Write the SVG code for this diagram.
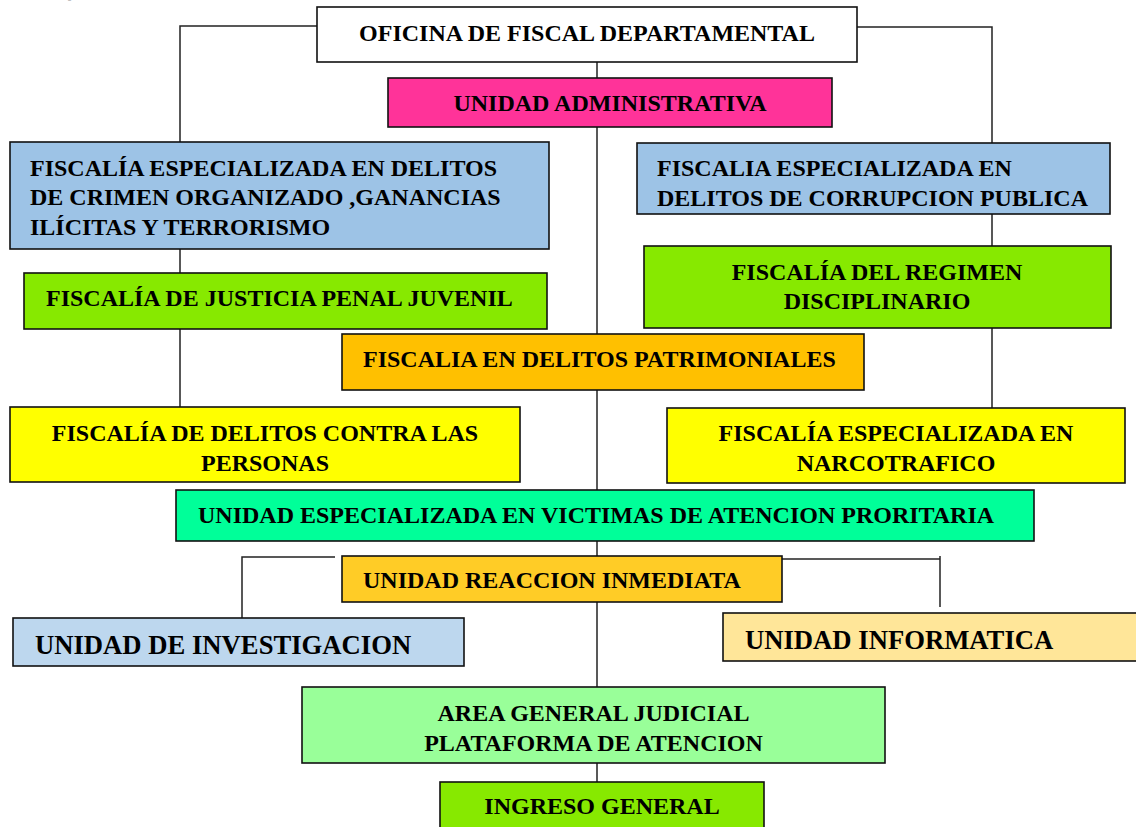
<svg xmlns="http://www.w3.org/2000/svg" width="1136" height="827" viewBox="0 0 1136 827">
<style>
.b{stroke:#111;stroke-width:1.6}
.t{font-family:"Liberation Serif","Times New Roman",serif;font-weight:bold;font-size:24px;fill:#000}
.c{text-anchor:middle}
.L{font-size:26.67px}
.ln{fill:none;stroke:#222;stroke-width:1.5}
</style>
<rect width="1136" height="827" fill="#fff"/>
<text class="t" x="55" y="-3">Q</text>
<g id="connectors">
<polyline class="ln" points="317,26 180,26 180,407"/>
<polyline class="ln" points="857,27 992,27 992,408"/>
<line class="ln" x1="597" y1="62" x2="597" y2="782"/>
<polyline class="ln" points="335,557 242,557 242,618"/>
<line class="ln" x1="780" y1="559" x2="940" y2="559"/>
<line class="ln" x1="940" y1="556" x2="940" y2="607"/>
</g>
<g id="n-oficina"><rect class="b" x="317" y="7" width="540" height="55" fill="#fff"/><text class="t c" x="587" y="41">OFICINA DE FISCAL DEPARTAMENTAL</text></g>
<g id="n-admin"><rect class="b" x="388" y="78" width="444" height="49" fill="#FF3399"/><text class="t c" x="610" y="111">UNIDAD ADMINISTRATIVA</text></g>
<g id="n-crimen"><rect class="b" x="10" y="142" width="539" height="107" fill="#9DC3E6"/><text class="t" x="30" y="176">FISCALÍA ESPECIALIZADA EN DELITOS</text><text class="t" x="30" y="205">DE CRIMEN ORGANIZADO ,GANANCIAS</text><text class="t" x="30" y="235">ILÍCITAS Y TERRORISMO</text></g>
<g id="n-corrupcion"><rect class="b" x="637" y="143" width="473" height="71" fill="#9DC3E6"/><text class="t" x="657" y="176">FISCALIA ESPECIALIZADA EN</text><text class="t" x="657" y="206">DELITOS DE CORRUPCION PUBLICA</text></g>
<g id="n-juvenil"><rect class="b" x="24" y="273" width="523" height="56" fill="#87E900"/><text class="t" x="46" y="306">FISCALÍA DE JUSTICIA PENAL JUVENIL</text></g>
<g id="n-disciplinario"><rect class="b" x="644" y="246" width="467" height="82" fill="#87E900"/><text class="t c" x="877" y="280">FISCALÍA DEL REGIMEN</text><text class="t c" x="877" y="309">DISCIPLINARIO</text></g>
<g id="n-patrimoniales"><rect class="b" x="342" y="334" width="522" height="56" fill="#FFC000"/><text class="t" x="363" y="367">FISCALIA EN DELITOS PATRIMONIALES</text></g>
<g id="n-personas"><rect class="b" x="10" y="407" width="510" height="75" fill="#FFFF00"/><text class="t c" x="265" y="441">FISCALÍA DE DELITOS CONTRA LAS</text><text class="t c" x="265" y="471">PERSONAS</text></g>
<g id="n-narcotrafico"><rect class="b" x="667" y="408" width="458" height="75" fill="#FFFF00"/><text class="t c" x="896" y="441">FISCALÍA ESPECIALIZADA EN</text><text class="t c" x="896" y="471">NARCOTRAFICO</text></g>
<g id="n-victimas"><rect class="b" x="176" y="490" width="858" height="51" fill="#00FF99"/><text class="t" x="198" y="523">UNIDAD ESPECIALIZADA EN VICTIMAS DE ATENCION PRORITARIA</text></g>
<g id="n-reaccion"><rect class="b" x="342" y="556" width="440" height="46" fill="#FFCC26"/><text class="t" x="363" y="588">UNIDAD REACCION INMEDIATA</text></g>
<g id="n-investigacion"><rect class="b" x="13" y="618" width="451" height="48" fill="#BDD7EE"/><text class="t L" x="35" y="654">UNIDAD DE INVESTIGACION</text></g>
<g id="n-informatica"><rect class="b" x="723" y="613" width="420" height="48" fill="#FFE699"/><text class="t L" x="745" y="649">UNIDAD INFORMATICA</text></g>
<g id="n-area"><rect class="b" x="302" y="687" width="583" height="76" fill="#99FF99"/><text class="t c" x="593.5" y="721">AREA GENERAL JUDICIAL</text><text class="t c" x="593.5" y="751">PLATAFORMA DE ATENCION</text></g>
<g id="n-ingreso"><rect class="b" x="440" y="782" width="324" height="60" fill="#87E900"/><text class="t c" x="602" y="814">INGRESO GENERAL</text></g>
</svg>
